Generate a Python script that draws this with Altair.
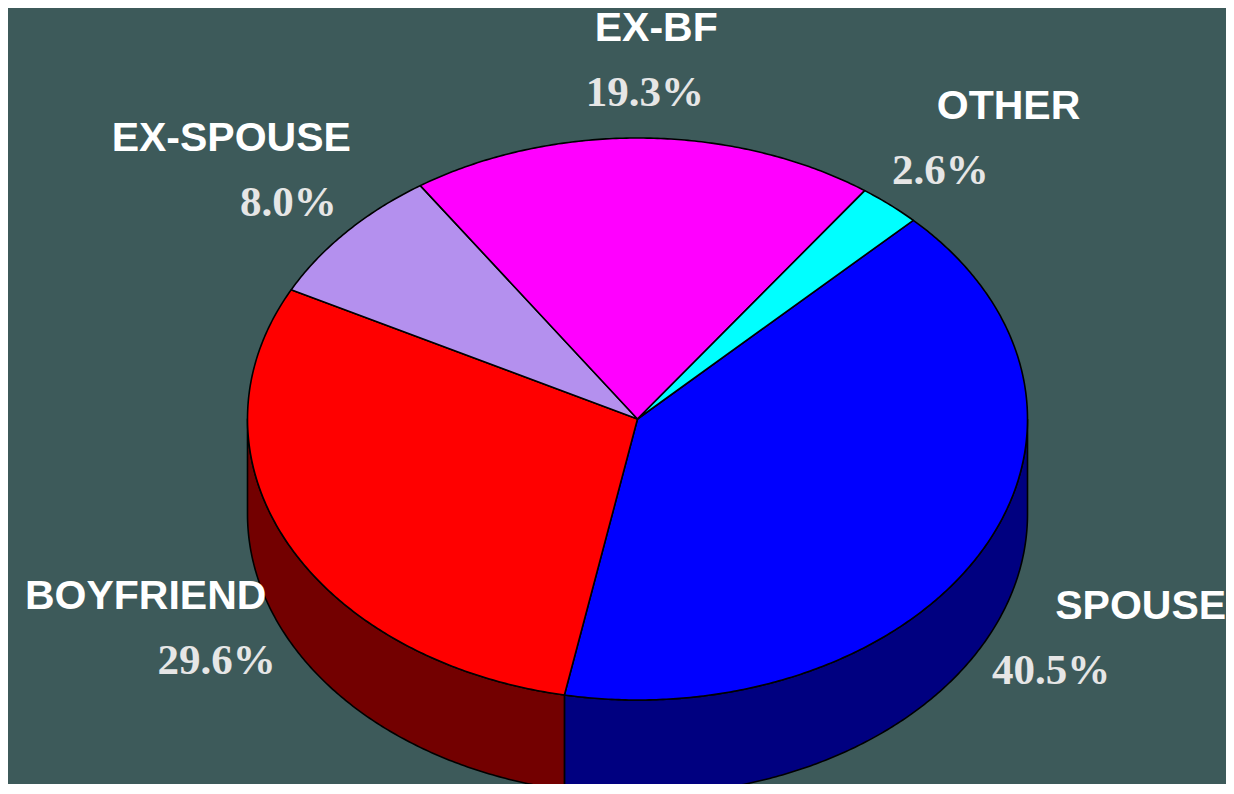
import math
import altair as alt
import pandas as pd

# ---- data ----
categories = ["SPOUSE", "BOYFRIEND", "EX-SPOUSE", "EX-BF", "OTHER"]
shares = [40.5, 29.6, 8.0, 19.3, 2.6]
top_colors = ["#0000ff", "#ff0000", "#b490ee", "#ff00ff", "#00ffff"]
side_colors = ["#000080", "#730000", "#4a3a70", "#700070", "#007070"]

# ---- pie geometry (layout, in page pixels) ----
CX, CY = 637.5, 419.0
RX, RY = 390.0, 281.0
DEPTH = 95.0
START = -45.0  # degrees, clockwise on screen

W, H = 1218, 776
X0, Y0 = 8, 8

total = sum(shares)
bounds = []
a = START
for s in shares:
    b = a + 360.0 * s / total
    bounds.append((a, b))
    a = b


def pt(t, dy=0.0):
    r = math.radians(t)
    return CX + RX * math.cos(r), CY + RY * math.sin(r) + dy


def arc(a0, a1, dy=0.0, step=0.5):
    n = max(2, int(abs(a1 - a0) / step) + 1)
    return [pt(a0 + (a1 - a0) * k / (n - 1), dy) for k in range(n)]


rows_top = []
rows_side = []
for idx, (cat, (a0, a1)) in enumerate(zip(categories, bounds)):
    pts = [(CX, CY)] + arc(a0, a1) + [(CX, CY)]
    for i, (x, y) in enumerate(pts):
        rows_top.append({"cat": cat, "i": i, "x": x, "y": y})
    # visible front wall: angles between 0 and 180 (front half)
    for off in (0.0, 360.0, -360.0):
        s0, s1 = max(a0 + off, 0.0), min(a1 + off, 180.0)
        if s1 > s0:
            spts = arc(s0, s1) + arc(s1, s0, DEPTH)
            spts.append(spts[0])
            for i, (x, y) in enumerate(spts):
                rows_side.append({"cat": cat, "i": i, "x": x, "y": y})

df_top = pd.DataFrame(rows_top)
df_side = pd.DataFrame(rows_side)

xs = alt.Scale(domain=[X0, X0 + W], nice=False, zero=False)
ys = alt.Scale(domain=[Y0, Y0 + H], nice=False, zero=False, reverse=True)

layers = []
for idx, cat in enumerate(categories):
    d = df_side[df_side["cat"] == cat]
    if len(d):
        layers.append(
            alt.Chart(d).mark_line(fill=side_colors[idx], stroke="black", strokeWidth=1.6, strokeJoin="round")
            .encode(x=alt.X("x:Q", scale=xs, axis=None), y=alt.Y("y:Q", scale=ys, axis=None), order="i:Q")
        )
for idx, cat in enumerate(categories):
    d = df_top[df_top["cat"] == cat]
    layers.append(
        alt.Chart(d).mark_line(fill=top_colors[idx], stroke="black", strokeWidth=1.6, strokeJoin="round")
        .encode(x=alt.X("x:Q", scale=xs, axis=None), y=alt.Y("y:Q", scale=ys, axis=None), order="i:Q")
    )

# ---- labels placed from each slice's mid-angle ----
name_rows, pct_rows = [], []
for cat, s, (a0, a1) in zip(categories, shares, bounds):
    m = math.radians((a0 + a1) / 2)
    px = CX + 1.2 * RX * math.cos(m)
    py = CY + 1.17 * RY * math.sin(m) + (DEPTH if math.sin(m) > 0 else 0)
    nx = px + 90 * math.cos(m) + 10
    ny = py - 64
    pct_rows.append({"x": px, "y": py + 16, "t": f"{s:.1f}%"})
    name_rows.append({"x": nx, "y": ny + 15, "t": cat})

names = alt.Chart(pd.DataFrame(name_rows)).mark_text(
    font="Liberation Sans", fontWeight="bold", fontSize=41, color="white",
    align="center", baseline="alphabetic"
).encode(x=alt.X("x:Q", scale=xs, axis=None), y=alt.Y("y:Q", scale=ys, axis=None), text="t:N")

pcts = alt.Chart(pd.DataFrame(pct_rows)).mark_text(
    font="Liberation Serif", fontWeight="bold", fontSize=43, color="#e6e6e6",
    align="center", baseline="alphabetic"
).encode(x=alt.X("x:Q", scale=xs, axis=None), y=alt.Y("y:Q", scale=ys, axis=None), text="t:N")

chart = alt.layer(*layers, names, pcts).properties(
    width=W, height=H, padding=0, autosize=alt.AutoSizeParams(type="none"),
    background="#3d5a5a"
).configure_view(stroke=None)

chart.save("out.html", embed_options={"renderer": "svg", "actions": False})
